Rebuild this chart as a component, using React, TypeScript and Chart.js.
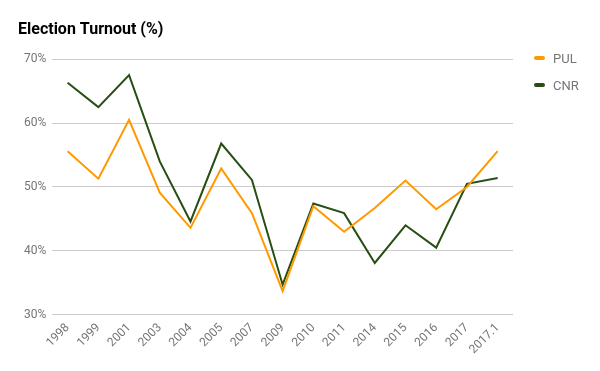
import React, { useEffect, useRef } from "react";
import { Chart, registerables } from "chart.js";

Chart.register(...registerables);

const categories = ["1998", "1999", "2001", "2003", "2004", "2005", "2007", "2009", "2010", "2011", "2014", "2015", "2016", "2017", "2017.1"];
const pulValues = [55.6, 51.3, 60.5, 49.1, 43.6, 52.9, 45.9, 33.7, 47.0, 43.0, 46.7, 51.0, 46.5, 50.0, 55.6];
const cnrValues = [66.3, 62.5, 67.5, 54.0, 44.6, 56.8, 51.1, 34.7, 47.4, 45.9, 38.1, 44.0, 40.5, 50.5, 51.4];
const yTicks = [30, 40, 50, 60, 70];
const seriesNames = ["PUL", "CNR"];
const seriesColors = ["#ff9900", "#274e13"];

export default function App() {
  const ref = useRef<HTMLCanvasElement | null>(null);
  useEffect(() => {
    document.body.style.margin = "0";
    if (!ref.current) return;
    const chart = new Chart(ref.current, {
      type: "line",
      data: {
        labels: categories,
        datasets: [
          {
            label: seriesNames[0],
            data: pulValues,
            borderColor: seriesColors[0],
            backgroundColor: seriesColors[0],
            borderWidth: 2,
            pointRadius: 0,
            tension: 0,
          },
          {
            label: seriesNames[1],
            data: cnrValues,
            borderColor: seriesColors[1],
            backgroundColor: seriesColors[1],
            borderWidth: 2,
            pointRadius: 0,
            tension: 0,
          },
        ],
      },
      options: {
        animation: false,
        responsive: false,
        maintainAspectRatio: false,
        layout: { padding: { left: 18, right: 87, top: 0, bottom: 8 } },
        plugins: {
          title: {
            display: true,
            text: "Election Turnout (%)",
            align: "start",
            color: "#000",
            font: { family: "Roboto", size: 16, weight: "bold" },
            padding: { top: 20, bottom: 20 },
          },
          legend: { display: false },
          tooltip: { enabled: false },
        },
        scales: {
          x: {
            offset: true,
            grid: { display: false, drawTicks: false },
            border: { display: false },
            ticks: {
              color: "#757575",
              font: { family: "Roboto", size: 12 },
              minRotation: 45,
              maxRotation: 45,
              padding: 6,
              autoSkip: false,
            },
          },
          y: {
            min: 30,
            max: 70,
            grid: { color: "#cccccc", drawTicks: false },
            border: { display: false },
            afterBuildTicks: (axis: any) => {
              axis.ticks = yTicks.map((v) => ({ value: v }));
            },
            ticks: {
              color: "#757575",
              font: { family: "Roboto", size: 12 },
              padding: 6,
              callback: (v: any) => v + "%",
            },
          },
        },
      },
    });
    return () => chart.destroy();
  }, []);
  return (
    <div style={{ position: "fixed", left: 0, top: 0, width: 600, height: 371 }}>
      <canvas ref={ref} width={600} height={371} style={{ width: 600, height: 371 }} />
      {seriesNames.map((name, i) => (
        <div
          key={name}
          style={{
            position: "absolute",
            left: 534,
            top: 50 + i * 27,
            height: 16,
            display: "flex",
            alignItems: "center",
            fontFamily: "Roboto",
            fontSize: 13,
            color: "#757575",
          }}
        >
          <span
            style={{
              display: "inline-block",
              width: 11,
              height: 4,
              borderRadius: 2,
              background: seriesColors[i],
              marginRight: 8,
            }}
          />
          {name}
        </div>
      ))}
    </div>
  );
}
